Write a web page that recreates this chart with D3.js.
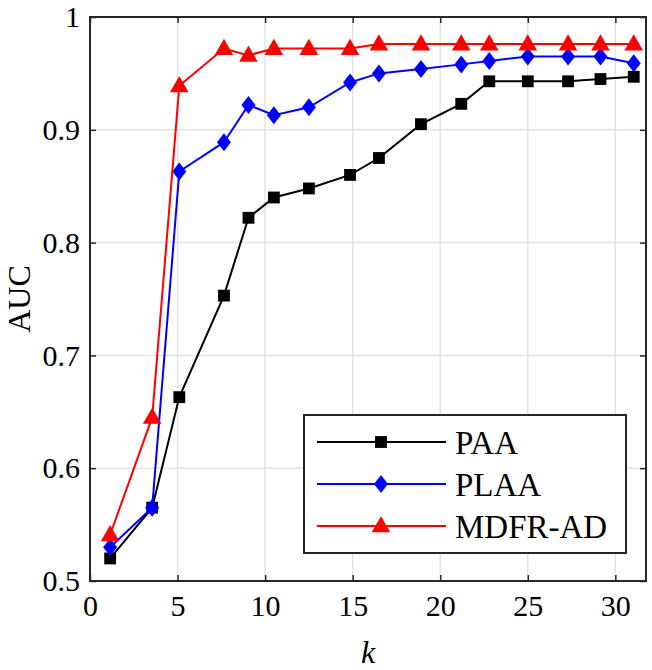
<!DOCTYPE html>
<html><head><meta charset="utf-8">
<script src="https://cdn.jsdelivr.net/npm/d3@7"></script>
<style>body{margin:0;background:#fff}svg{display:block}</style>
</head><body>
<script>
const kValues = [1.15, 3.55, 5.1, 7.65, 9.05, 10.5, 12.5, 14.85, 16.5, 18.9, 21.2, 22.8, 25.0, 27.3, 29.15, 31.05];
const paa   = [0.520, 0.565, 0.663, 0.753, 0.822, 0.840, 0.848, 0.860, 0.875, 0.905, 0.923, 0.943, 0.943, 0.943, 0.945, 0.947];
const plaa  = [0.530, 0.565, 0.863, 0.889, 0.922, 0.913, 0.920, 0.942, 0.950, 0.954, 0.958, 0.961, 0.965, 0.965, 0.965, 0.959];
const mdfr  = [0.541, 0.645, 0.939, 0.972, 0.966, 0.972, 0.972, 0.972, 0.976, 0.976, 0.976, 0.976, 0.976, 0.976, 0.976, 0.976];
const seriesNames = ["PAA", "PLAA", "MDFR-AD"];
const xTicks = [0, 5, 10, 15, 20, 25, 30];
const yTicks = [0.5, 0.6, 0.7, 0.8, 0.9, 1];

const W = 652, H = 670;
const L = 90, R = 646, T = 17, B = 581;
const svg = d3.select("body").append("svg").attr("width", W).attr("height", H);
const x = d3.scaleLinear().domain([0, 31.75]).range([L, R]);
const y = d3.scaleLinear().domain([0.5, 1]).range([B, T]);
const font = "'Liberation Serif','Times New Roman',serif";

// grid
const grid = svg.append("g").attr("stroke", "#e3e3e3").attr("stroke-width", 1.5);
xTicks.filter(d => d > 0).forEach(d => grid.append("line").attr("x1", x(d)).attr("x2", x(d)).attr("y1", T).attr("y2", B));
yTicks.filter(d => d > 0.5 && d < 1).forEach(d => grid.append("line").attr("x1", L).attr("x2", R).attr("y1", y(d)).attr("y2", y(d)));

// axes
const axColor = "#262626";
const xb = svg.append("g").attr("transform", `translate(0,${B})`)
  .call(d3.axisBottom(x).tickValues(xTicks).tickSize(-6).tickPadding(14).tickFormat(d3.format("d")));
const xt = svg.append("g").attr("transform", `translate(0,${T})`)
  .call(d3.axisTop(x).tickValues(xTicks).tickSize(-6).tickFormat(""));
const yl = svg.append("g").attr("transform", `translate(${L},0)`)
  .call(d3.axisLeft(y).tickValues(yTicks).tickSize(-6).tickPadding(10).tickFormat(d => d === 1 ? "1" : d3.format(".1f")(d)));
const yr = svg.append("g").attr("transform", `translate(${R},0)`)
  .call(d3.axisRight(y).tickValues(yTicks).tickSize(-6).tickFormat(""));
[xb, xt, yl, yr].forEach(g => {
  g.selectAll(".domain").remove();
  g.selectAll(".tick line").attr("stroke", axColor).attr("stroke-width", 1.5);
  g.selectAll("text").attr("fill", "#000").style("font-family", font).style("font-size", "30px");
});
xb.selectAll("text").attr("dy", "0.71em");
svg.append("rect").attr("x", L).attr("y", T).attr("width", R - L).attr("height", B - T)
  .attr("fill", "none").attr("stroke", axColor).attr("stroke-width", 2);

// axis labels
svg.append("text").attr("x", (L + R) / 2 - 0).attr("y", 663).attr("text-anchor", "middle")
  .style("font-family", font).style("font-size", "32px").style("font-style", "italic").text("k");
svg.append("text").attr("transform", `translate(30,${y(0.75)}) rotate(-90)`).attr("text-anchor", "middle")
  .style("font-family", font).style("font-size", "32px").text("AUC");

// series
const series = [
  {name: seriesNames[0], vals: paa, color: "#000000", sym: d3.symbolSquare, size: 140},
  {name: seriesNames[1], vals: plaa, color: "#0000ff", sym: "diamond", size: 0},
  {name: seriesNames[2], vals: mdfr, color: "#ff0000", sym: d3.symbolTriangle, size: 150}
];
function marker(g, s, cx, cy) {
  if (s.sym === "diamond") {
    g.append("path").attr("d", `M${cx},${cy-9}L${cx+7},${cy}L${cx},${cy+9}L${cx-7},${cy}Z`).attr("fill", s.color);
  } else {
    g.append("path").attr("d", d3.symbol(s.sym, s.size)()).attr("transform", `translate(${cx},${cy + (s.sym === d3.symbolTriangle ? 1 : 0)})`).attr("fill", s.color);
  }
}
const line = d3.line().x((d, i) => x(kValues[i])).y(d => y(d));
series.forEach(s => {
  svg.append("path").datum(s.vals).attr("d", line).attr("fill", "none").attr("stroke", s.color).attr("stroke-width", 2);
  const g = svg.append("g");
  s.vals.forEach((v, i) => marker(g, s, x(kValues[i]), y(v)));
});

// legend
const lg = svg.append("g");
lg.append("rect").attr("x", 304).attr("y", 415).attr("width", 322).attr("height", 138)
  .attr("fill", "#fff").attr("stroke", axColor).attr("stroke-width", 2);
const rowsY = [442, 484, 526];
series.forEach((s, i) => {
  lg.append("line").attr("x1", 317).attr("x2", 446).attr("y1", rowsY[i]).attr("y2", rowsY[i]).attr("stroke", s.color).attr("stroke-width", 2);
  marker(lg, s, 381, rowsY[i]);
  lg.append("text").attr("x", 455).attr("y", rowsY[i]).attr("dy", "0.35em")
    .style("font-family", font).style("font-size", "33px").text(s.name);
});
</script>
</body></html>
